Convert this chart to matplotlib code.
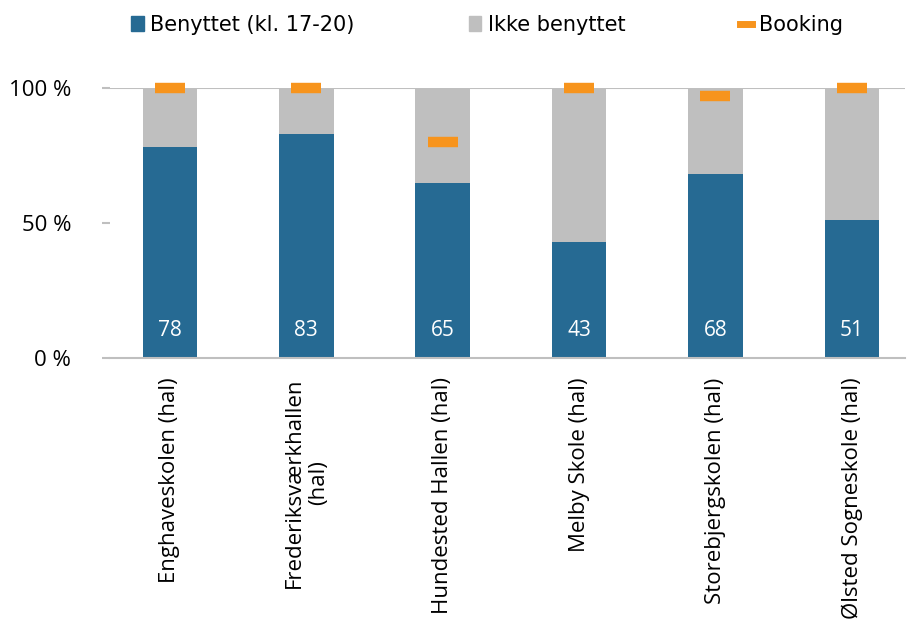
import matplotlib
matplotlib.use("Agg")
import matplotlib.pyplot as plt
from matplotlib.lines import Line2D
from matplotlib.patches import Patch
import numpy as np

# --- data --------------------------------------------------------------
categories = ["Enghaveskolen (hal)", "Frederiksværkhallen\n(hal)", "Hundested Hallen (hal)",
              "Melby Skole (hal)", "Storebjergskolen (hal)", "Ølsted Sogneskole (hal)"]
used = [78, 83, 65, 43, 68, 51]
booking = [100, 100, 80, 100, 97, 100]
yticks = [0, 50, 100]
ytick_labels = ["0 %", "50 %", "100 %"]

BLUE = "#266A93"
GREY = "#BFBFBF"
ORANGE = "#F7941D"

plt.rcParams["font.family"] = ["Open Sans", "DejaVu Sans"]

fig = plt.figure(figsize=(9.1, 6.26), dpi=100)
ax = fig.add_axes([110 / 910, (626 - 358) / 626, 795 / 910, 270 / 626])

x = np.arange(len(categories))
not_used = [100 - u for u in used]
ax.bar(x, used, width=0.4, color=BLUE, zorder=2)
ax.bar(x, not_used, bottom=used, width=0.4, color=GREY, zorder=2)
ax.plot(x, booking, linestyle="none", marker="_", markersize=21, markeredgewidth=7.5,
        color=ORANGE, zorder=4, clip_on=False)

for xi, u in zip(x, used):
    ax.text(xi, 10, str(u), ha="center", va="center", color="white", fontsize=15, zorder=5)

ax.set_xlim(-0.44, 5.39)
ax.set_ylim(0, 100)
ax.set_yticks(yticks)
ax.set_yticklabels(ytick_labels, fontsize=16)
ax.set_xticks(x)
ax.set_xticklabels(categories, rotation=90, fontsize=16, ha="center", va="top",
                   multialignment="center")
ax.tick_params(axis="y", length=6, width=1.5, color=GREY, pad=22)
ax.tick_params(axis="x", length=0, pad=14)

for side in ["left", "right", "top"]:
    ax.spines[side].set_visible(False)
ax.spines["bottom"].set_color(GREY)
ax.spines["bottom"].set_linewidth(1.5)
ax.axhline(100, color=GREY, linewidth=1.5, zorder=1)

handles = [Patch(color=BLUE), Patch(color=GREY),
           Line2D([], [], color=ORANGE, linewidth=5)]
labels = ["Benyttet (kl. 17-20)", "Ikke benyttet", "Booking"]
fig.legend(handles, labels, loc="center", bbox_to_anchor=(0.535, 0.96), ncol=3,
           frameon=False, handlelength=0.6, handletextpad=0.3, columnspacing=5.5,
           prop={"family": ["Liberation Sans Narrow", "DejaVu Sans"], "size": 15})

fig.savefig("out.png", dpi=100)
